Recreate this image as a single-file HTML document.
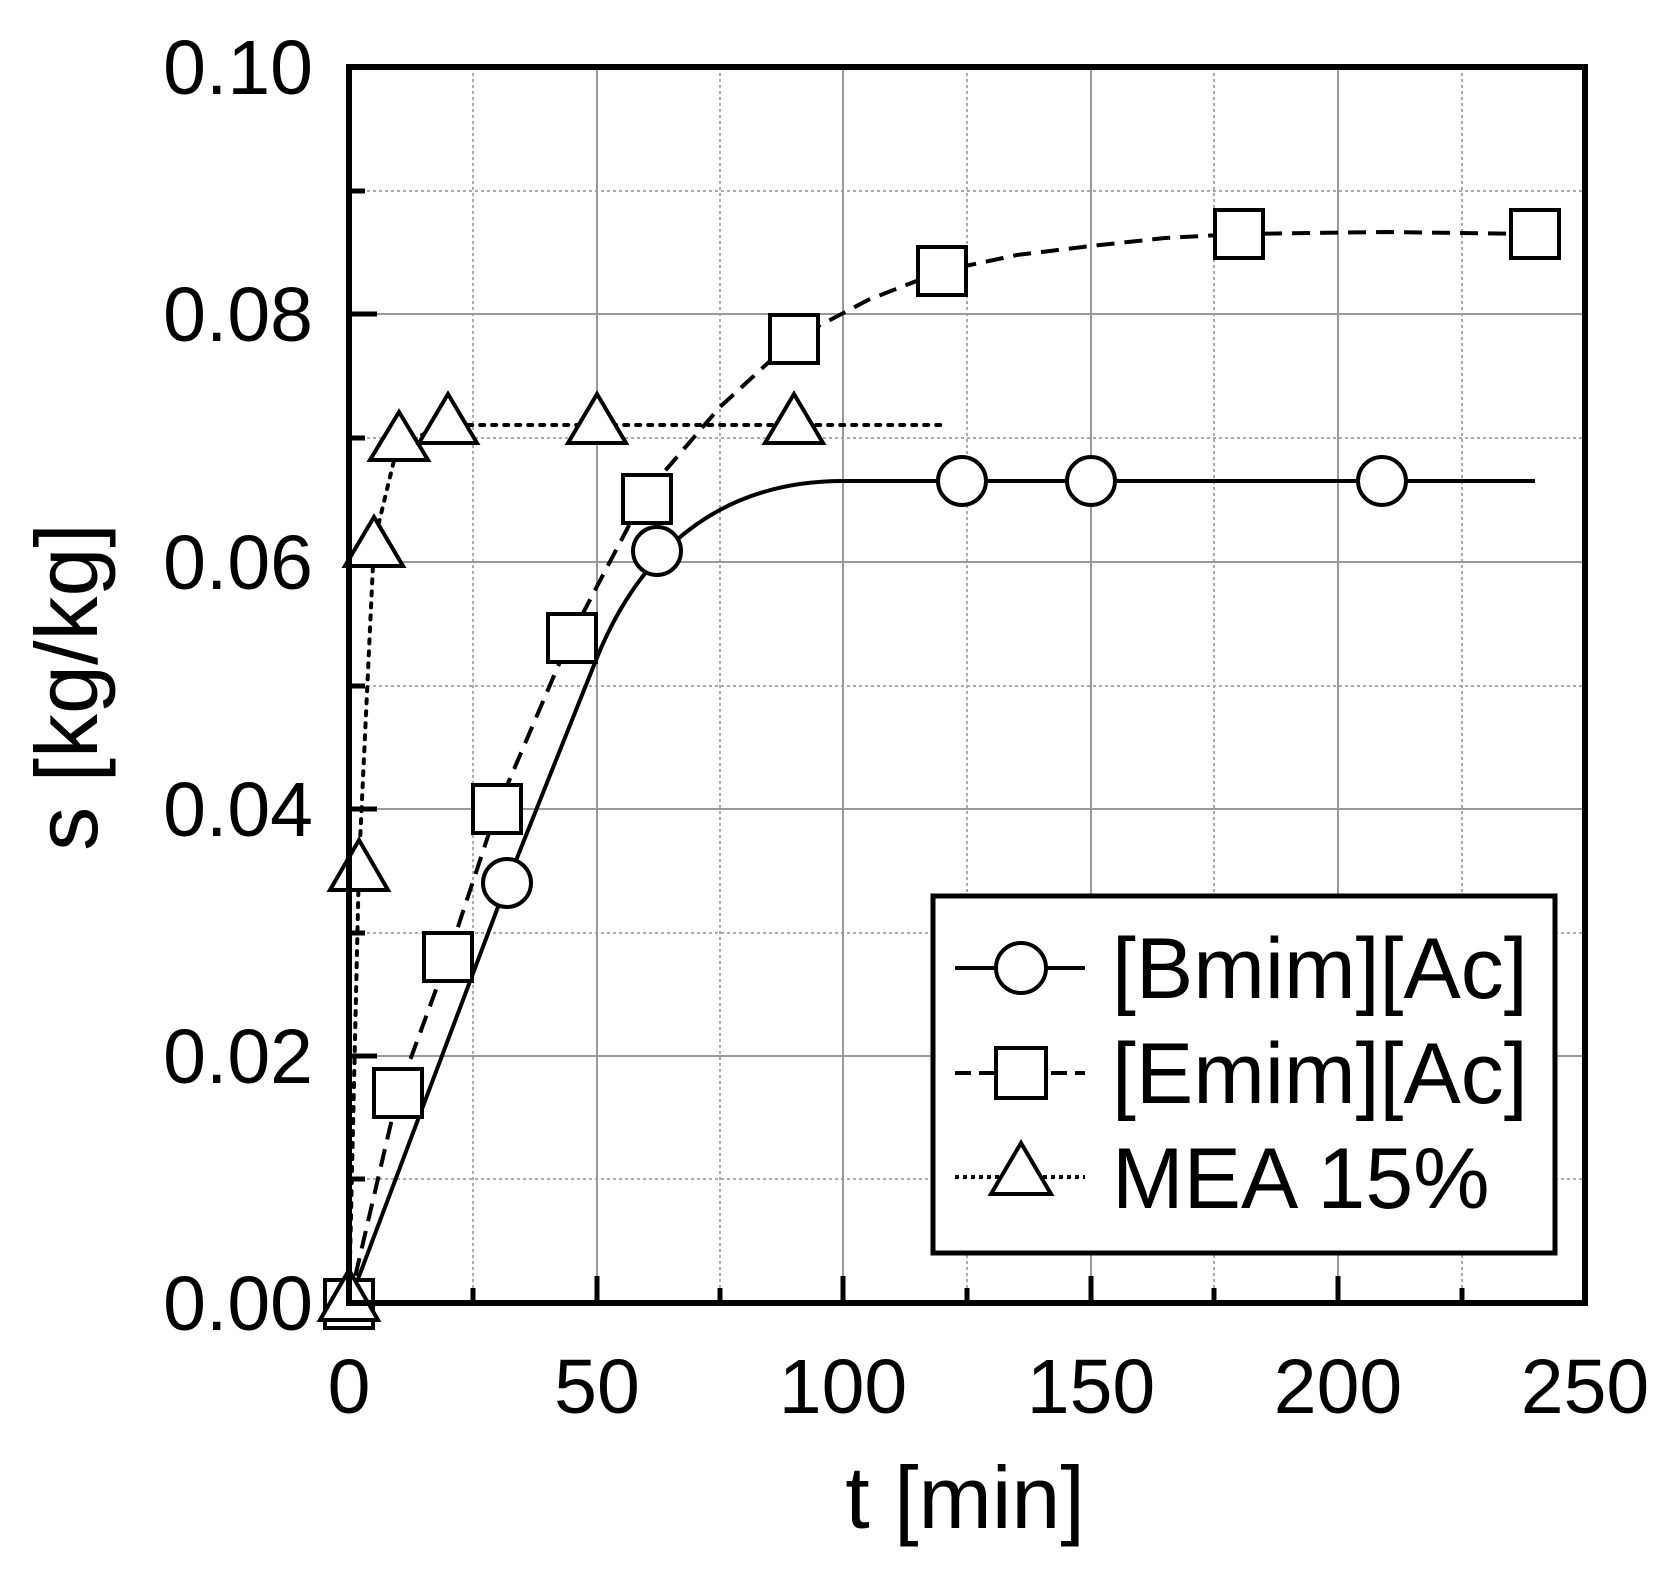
<!DOCTYPE html>
<html><head><meta charset="utf-8"><style>
html,body{margin:0;padding:0;background:#fff}
svg{display:block}
text{font-family:"Liberation Sans",Arial,sans-serif;fill:#000}
</style></head><body>
<svg width="1663" height="1575" viewBox="0 0 1663 1575" xmlns="http://www.w3.org/2000/svg">
<rect width="1663" height="1575" fill="#fff"/>
<!-- minor grid -->
<g stroke="#aaa" stroke-width="2" stroke-dasharray="3,3" fill="none">
<line x1="473" y1="67" x2="473" y2="1303"/><line x1="720" y1="67" x2="720" y2="1303"/>
<line x1="967" y1="67" x2="967" y2="1303"/><line x1="1214" y1="67" x2="1214" y2="1303"/>
<line x1="1462" y1="67" x2="1462" y2="1303"/>
<line x1="349" y1="1179" x2="1585" y2="1179"/><line x1="349" y1="933" x2="1585" y2="933"/>
<line x1="349" y1="686" x2="1585" y2="686"/><line x1="349" y1="438" x2="1585" y2="438"/>
<line x1="349" y1="191" x2="1585" y2="191"/>
</g>
<!-- major grid -->
<g stroke="#999" stroke-width="2" fill="none">
<line x1="597" y1="67" x2="597" y2="1303"/><line x1="843" y1="67" x2="843" y2="1303"/>
<line x1="1091" y1="67" x2="1091" y2="1303"/><line x1="1338" y1="67" x2="1338" y2="1303"/>
<line x1="349" y1="1056" x2="1585" y2="1056"/><line x1="349" y1="809" x2="1585" y2="809"/>
<line x1="349" y1="562" x2="1585" y2="562"/><line x1="349" y1="314" x2="1585" y2="314"/>
</g>
<!-- ticks -->
<g stroke="#000" stroke-width="5">
<line x1="597" y1="1303" x2="597" y2="1276"/><line x1="843" y1="1303" x2="843" y2="1276"/>
<line x1="1091" y1="1303" x2="1091" y2="1276"/><line x1="1338" y1="1303" x2="1338" y2="1276"/>
<line x1="473" y1="1303" x2="473" y2="1288"/><line x1="720" y1="1303" x2="720" y2="1288"/>
<line x1="967" y1="1303" x2="967" y2="1288"/><line x1="1214" y1="1303" x2="1214" y2="1288"/>
<line x1="1462" y1="1303" x2="1462" y2="1288"/>
<line x1="349" y1="1056" x2="377" y2="1056"/><line x1="349" y1="809" x2="377" y2="809"/>
<line x1="349" y1="562" x2="377" y2="562"/><line x1="349" y1="314" x2="377" y2="314"/>
<line x1="349" y1="1179" x2="365" y2="1179"/><line x1="349" y1="933" x2="365" y2="933"/>
<line x1="349" y1="686" x2="365" y2="686"/><line x1="349" y1="438" x2="365" y2="438"/>
<line x1="349" y1="191" x2="365" y2="191"/>
</g>
<!-- curves -->
<path d="M349,1303 L507,883 L596,660 C640,550 720,481 843,481 L1535,481" fill="none" stroke="#000" stroke-width="4"/>
<polyline points="349,1303 398,1093 448,957 497,809 571,636 646,493 720,407 794,339 868,300 942,271 1017,255 1091,246 1165,238 1239,234 1387,232 1535,234" fill="none" stroke="#000" stroke-width="4" stroke-dasharray="18,10"/>
<polyline points="349,1303 359,864 374,543 398,444 448,425 942,425" fill="none" stroke="#000" stroke-width="4" stroke-dasharray="4,8" stroke-linecap="round"/>
<!-- markers -->
<g fill="#fff" stroke="#000" stroke-width="4">
<circle cx="349" cy="1303" r="24"/><circle cx="507" cy="883" r="24"/><circle cx="657" cy="551" r="24"/>
<circle cx="962" cy="481" r="24"/><circle cx="1091" cy="481" r="24"/><circle cx="1382" cy="481" r="24"/>
</g>
<g fill="#fff" stroke="#000" stroke-width="4">
<rect x="325" y="1280" width="48" height="48"/><rect x="374" y="1069" width="48" height="48"/>
<rect x="424" y="933" width="48" height="48"/><rect x="473" y="785" width="48" height="48"/>
<rect x="548" y="614" width="48" height="48"/><rect x="623" y="475" width="48" height="48"/>
<rect x="770" y="315" width="48" height="48"/><rect x="918" y="247" width="48" height="48"/>
<rect x="1215" y="210" width="48" height="48"/><rect x="1511" y="210" width="48" height="48"/>
</g>
<g fill="#fff" stroke="#000" stroke-width="4">
<polygon points="349,1270 320,1320 378,1320"/>
<polygon points="359,840 330,890 388,890"/>
<polygon points="374,517 345,566 403,566"/>
<polygon points="399,412 370,460 428,460"/>
<polygon points="448,394 419,443 477,443"/>
<polygon points="597,394 568,443 626,443"/>
<polygon points="794,394 765,443 823,443"/>
</g>
<!-- frame -->
<rect x="349" y="67" width="1236" height="1236" fill="none" stroke="#000" stroke-width="6"/>
<!-- legend -->
<rect x="933" y="896" width="622" height="357" fill="#fff" stroke="#000" stroke-width="5"/>
<line x1="955" y1="968" x2="1085" y2="968" stroke="#000" stroke-width="4"/>
<circle cx="1021" cy="968" r="25" fill="#fff" stroke="#000" stroke-width="4"/>
<line x1="955" y1="1073" x2="1085" y2="1073" stroke="#000" stroke-width="4" stroke-dasharray="16,8"/>
<rect x="996" y="1048" width="50" height="50" fill="#fff" stroke="#000" stroke-width="4"/>
<line x1="955" y1="1177" x2="1085" y2="1177" stroke="#000" stroke-width="4" stroke-dasharray="4,4"/>
<polygon points="1021,1143 991,1194 1051,1194" fill="#fff" stroke="#000" stroke-width="4"/>
<text x="1112" y="998" font-size="86">[Bmim][Ac]</text>
<text x="1112" y="1103" font-size="86">[Emim][Ac]</text>
<text x="1112" y="1208" font-size="86">MEA 15%</text>
<!-- tick labels -->
<g font-size="77" text-anchor="end">
<text x="313" y="94">0.10</text>
<text x="313" y="341">0.08</text>
<text x="313" y="589">0.06</text>
<text x="313" y="836">0.04</text>
<text x="313" y="1083">0.02</text>
<text x="313" y="1330">0.00</text>
</g>
<g font-size="77" text-anchor="middle">
<text x="349" y="1413">0</text>
<text x="597" y="1413">50</text>
<text x="843" y="1413">100</text>
<text x="1091" y="1413">150</text>
<text x="1338" y="1413">200</text>
<text x="1585" y="1413">250</text>
</g>
<text x="965" y="1528" font-size="88" text-anchor="middle">t [min]</text>
<text transform="translate(97,687) rotate(-90)" font-size="88" text-anchor="middle">s [kg/kg]</text>
</svg>
</body></html>
